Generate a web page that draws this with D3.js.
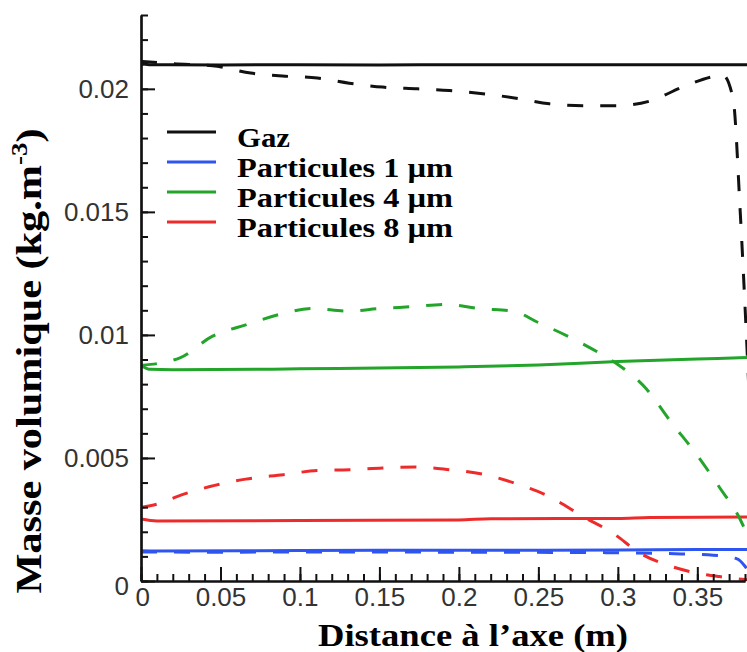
<!DOCTYPE html>
<html>
<head>
<meta charset="utf-8">
<script src="https://cdn.jsdelivr.net/npm/d3@7"></script>
<style>
  html, body { margin: 0; padding: 0; background: #fff; }
  svg { display: block; }
</style>
</head>
<body>
<svg id="chart" width="747" height="652"></svg>
<script>
// ---- Data ----
const xMajorTicks = [0, 0.05, 0.1, 0.15, 0.2, 0.25, 0.3, 0.35];
const xTickLabels = ["0", "0.05", "0.1", "0.15", "0.2", "0.25", "0.3", "0.35"];
const yMajorTicks = [0, 0.005, 0.01, 0.015, 0.02];
const yTickLabels = ["0", "0.005", "0.01", "0.015", "0.02"];
const xMinorTicks = d3.range(0, 39).map(i => i / 100);
const yMinorTicks = d3.range(0, 24).map(i => i / 1000);

const legendLabels = ["Gaz", "Particules 1 µm", "Particules 4 µm", "Particules 8 µm"];
const seriesColors = ["#111111", "#2f55f0", "#22a52a", "#ee2b2b"];

// solid lines
const gazSolidX = [0, 0.005, 0.05, 0.1, 0.15, 0.2, 0.25, 0.3, 0.35, 0.39];
const gazSolidY = [0.02112, 0.02098, 0.02097, 0.02098, 0.02097, 0.02098, 0.02098, 0.02098, 0.02098, 0.02098];

const p1SolidX = [0, 0.01, 0.1, 0.2, 0.3, 0.35, 0.39];
const p1SolidY = [0.00123, 0.00122, 0.00124, 0.00125, 0.00126, 0.00128, 0.00128];

const p4SolidX = [0, 0.006, 0.02, 0.1, 0.2, 0.25, 0.3, 0.35, 0.39];
const p4SolidY = [0.00876, 0.00860, 0.00858, 0.00862, 0.00870, 0.00878, 0.00892, 0.00902, 0.00910];

const p8SolidX = [0, 0.01, 0.1, 0.2, 0.22, 0.3, 0.32, 0.39];
const p8SolidY = [0.00252, 0.00244, 0.00246, 0.00248, 0.00253, 0.00254, 0.00258, 0.00260];

// dashed lines
const gazDashX = [0, 0.02, 0.045, 0.069, 0.089, 0.111, 0.131, 0.152, 0.174, 0.194, 0.215, 0.236, 0.257, 0.278, 0.299, 0.32, 0.341, 0.36, 0.366, 0.3725, 0.377, 0.3805, 0.383, 0.386];
const gazDashY = [0.02112, 0.02102, 0.02094, 0.02064, 0.02052, 0.02044, 0.02023, 0.02007, 0.02000, 0.01993, 0.01980, 0.01962, 0.01939, 0.01931, 0.01931, 0.01950, 0.02008, 0.02050, 0.02056, 0.01960, 0.01500, 0.01050, 0.00700, 0.00300];

const p1DashX = [0, 0.05, 0.1, 0.2, 0.3, 0.34, 0.36, 0.375, 0.38, 0.384];
const p1DashY = [0.00118, 0.00117, 0.00118, 0.00117, 0.00115, 0.00110, 0.00105, 0.00090, 0.00060, 0.00020];

const p4DashX = [0, 0.0245, 0.045, 0.067, 0.087, 0.108, 0.13, 0.15, 0.171, 0.1925, 0.213, 0.234, 0.25, 0.27, 0.29, 0.30, 0.318, 0.333, 0.35, 0.364, 0.377, 0.385];
const p4DashY = [0.00876, 0.00907, 0.00995, 0.01043, 0.01083, 0.01107, 0.01097, 0.01107, 0.01115, 0.01124, 0.01107, 0.01097, 0.01050, 0.00990, 0.00920, 0.00880, 0.00780, 0.00650, 0.00510, 0.00380, 0.00250, 0.00130];

const p8DashX = [0, 0.012, 0.0226, 0.0434, 0.066, 0.0895, 0.111, 0.131, 0.152, 0.1735, 0.194, 0.2165, 0.238, 0.257, 0.278, 0.297, 0.314, 0.331, 0.347, 0.364, 0.38, 0.39];
const p8DashY = [0.00299, 0.00316, 0.00343, 0.00384, 0.00414, 0.00432, 0.00449, 0.00452, 0.00459, 0.00463, 0.00452, 0.00432, 0.00391, 0.00343, 0.00262, 0.00194, 0.00113, 0.00065, 0.00036, 0.00018, 0.00006, 0.00003];

// ---- Chart ----
const svg = d3.select("#chart");
svg.append("rect").attr("width", 747).attr("height", 652).attr("fill", "#fff");

const x = d3.scaleLinear().domain([0, 0.38]).range([141, 745]);
const y = d3.scaleLinear().domain([0, 0.023]).range([581, 15]);

svg.append("clipPath").attr("id", "plotclip")
  .append("rect").attr("x", 141).attr("y", 0).attr("width", 606).attr("height", 582);

const plot = svg.append("g").attr("clip-path", "url(#plotclip)");

const line = d3.line().x(d => x(d[0])).y(d => y(d[1])).curve(d3.curveMonotoneX);
const zip = (xs, ys) => xs.map((v, i) => [v, ys[i]]);

const series = [
  { xs: p1SolidX, ys: p1SolidY, c: seriesColors[1], dash: null },
  { xs: p8SolidX, ys: p8SolidY, c: seriesColors[3], dash: null },
  { xs: p4SolidX, ys: p4SolidY, c: seriesColors[2], dash: null },
  { xs: gazSolidX, ys: gazSolidY, c: seriesColors[0], dash: null },
  { xs: p1DashX, ys: p1DashY, c: seriesColors[1], dash: "16,17" },
  { xs: p8DashX, ys: p8DashY, c: seriesColors[3], dash: "16,17" },
  { xs: p4DashX, ys: p4DashY, c: seriesColors[2], dash: "16,17" },
  { xs: gazDashX, ys: gazDashY, c: seriesColors[0], dash: "16,17" }
];

series.forEach(s => {
  plot.append("path")
    .datum(zip(s.xs, s.ys))
    .attr("d", line)
    .attr("fill", "none")
    .attr("stroke", s.c)
    .attr("stroke-width", 3)
    .attr("stroke-dasharray", s.dash)
    .attr("stroke-linecap", "butt");
});

// ---- Axes ----
const tickFont = "'Liberation Sans', Arial, Helvetica, sans-serif";

const yMinor = svg.append("g").attr("transform", "translate(141,0)")
  .call(d3.axisLeft(y).tickValues(yMinorTicks).tickSize(-7).tickSizeOuter(0).tickFormat(""));
const yMajor = svg.append("g").attr("transform", "translate(141,0)")
  .call(d3.axisLeft(y).tickValues(yMajorTicks).tickSize(-14).tickSizeOuter(0).tickPadding(12)
    .tickFormat((d, i) => yTickLabels[i]));

const xMinor = svg.append("g").attr("transform", "translate(0,581)")
  .call(d3.axisBottom(x).tickValues(xMinorTicks).tickSize(-7).tickSizeOuter(0).tickFormat(""));
const xMajor = svg.append("g").attr("transform", "translate(0,581)")
  .call(d3.axisBottom(x).tickValues(xMajorTicks).tickSize(-14).tickSizeOuter(0).tickPadding(7)
    .tickFormat((d, i) => xTickLabels[i]));

[yMinor, yMajor, xMinor, xMajor].forEach(g => {
  g.selectAll(".domain").attr("stroke", "#111").attr("stroke-width", 2.2);
  g.selectAll(".tick line").attr("stroke", "#111").attr("stroke-width", 2);
  g.selectAll(".tick text").attr("fill", "#333").attr("font-size", 26).attr("font-family", tickFont);
});
yMajor.selectAll(".tick text").filter(d => d === 0).attr("dy", "0.5em");
xMajor.selectAll(".tick text").filter(d => d === 0).attr("dx", "0.05em");

// ---- Titles ----
const serif = "'Liberation Serif', 'Times New Roman', Times, serif";

svg.append("text")
  .attr("x", 473).attr("y", 646)
  .attr("text-anchor", "middle")
  .attr("font-family", serif).attr("font-weight", "bold").attr("font-size", 32)
  .attr("fill", "#000")
  .attr("textLength", 310).attr("lengthAdjust", "spacingAndGlyphs")
  .text("Distance à l’axe (m)");

const yt = svg.append("text")
  .attr("transform", "translate(41,361) rotate(-90)")
  .attr("text-anchor", "middle")
  .attr("font-family", serif).attr("font-weight", "bold").attr("font-size", 36)
  .attr("fill", "#000")
  .attr("textLength", 465).attr("lengthAdjust", "spacingAndGlyphs");
yt.append("tspan").text("Masse volumique (kg.m");
yt.append("tspan").attr("font-size", 23).attr("dy", -14).text("-3");
yt.append("tspan").attr("dy", 14).text(")");

// ---- Legend ----
const legendY = [132, 162, 192, 222];
const leg = svg.append("g");
legendLabels.forEach((lab, i) => {
  leg.append("line")
    .attr("x1", 167).attr("x2", 216)
    .attr("y1", legendY[i]).attr("y2", legendY[i])
    .attr("stroke", seriesColors[i]).attr("stroke-width", 3);
  const t = leg.append("text")
    .attr("x", 237).attr("y", legendY[i] + 15)
    .attr("font-family", serif).attr("font-weight", "bold").attr("font-size", 28)
    .attr("fill", "#000")
    .text(lab);
  if (i > 0) t.attr("textLength", 216).attr("lengthAdjust", "spacingAndGlyphs");
  else t.attr("textLength", 53).attr("lengthAdjust", "spacingAndGlyphs");
});
</script>
</body>
</html>
